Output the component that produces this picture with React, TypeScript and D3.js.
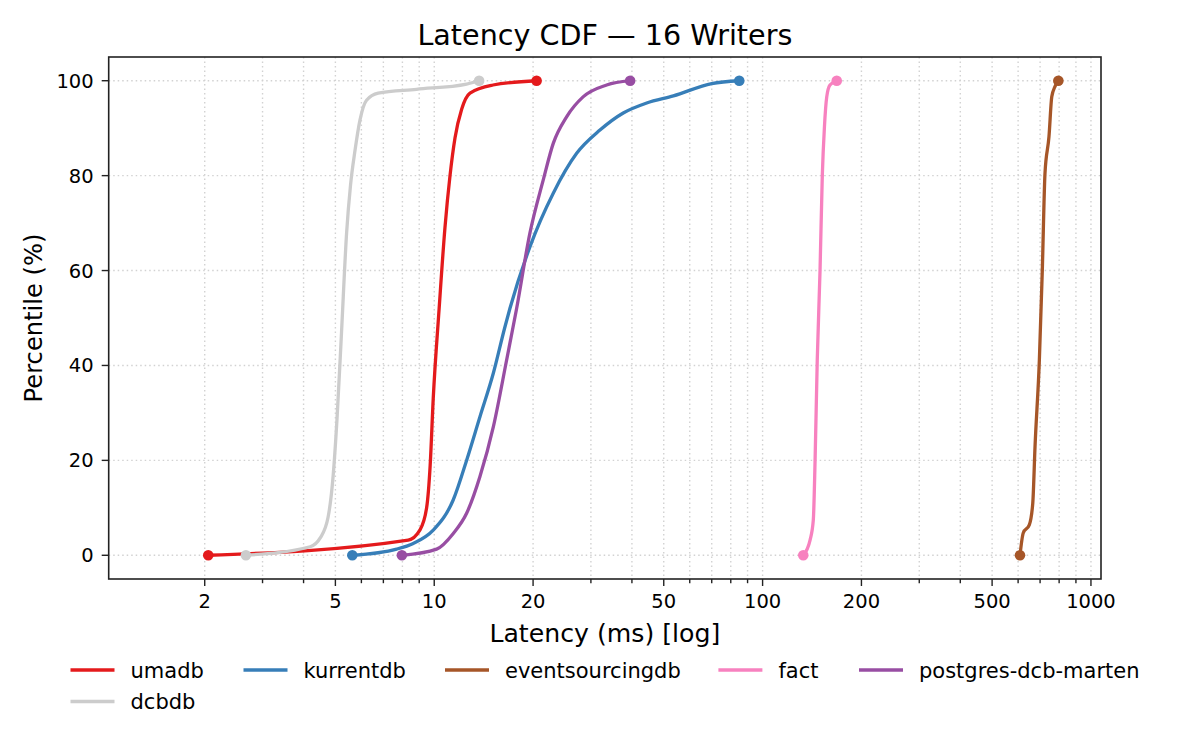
import * as d3 from "d3";

// latency (ms) and percentile for each store
const umadbLat = [2.05, 8.33, 9.04, 9.48, 9.72, 9.93, 10.35, 10.78, 11.17, 11.57, 12.12, 12.85, 15.1, 20.5];
const umadbPct = [0, 3.2, 5.3, 10, 19, 33, 52, 69, 80, 88, 94, 97.4, 99.1, 100];

const dcbdbLat = [2.67, 4.19, 4.49, 4.75, 4.92, 5.06, 5.22, 5.41, 5.56, 5.74, 5.94, 6.22, 6.75, 8.83, 12.55, 13.7];
const dcbdbPct = [0, 1.8, 3.6, 8, 16.6, 29, 47, 68, 78, 85.4, 91.7, 95.9, 97.4, 98.2, 99.3, 100];

const kurrentLat = [5.63, 7.68, 8.63, 9.93, 11.43, 12.56, 13.78, 15.14, 16.4, 17.0, 19.56, 23.04, 27.15, 31.97, 37.64, 44.36, 53.5, 70.0, 84.9];
const kurrentPct = [0, 1.3, 2.5, 5.3, 11.7, 20.1, 29.2, 38.4, 48, 52, 65, 76.3, 84.7, 89.6, 93.2, 95.3, 96.8, 99.4, 100];

const esdbLat = [608, 622, 649, 665, 675.6, 696.5, 711, 724.5, 745, 759.7, 777.4, 795.6];
const esdbPct = [0, 4.7, 6.4, 11, 22.9, 41.2, 60.1, 80.5, 88.2, 96.6, 98.8, 100];

const factLat = [133, 139.5, 142.7, 144.5, 146.7, 149.6, 152, 154.3, 156.8, 160.4, 168.2];
const factPct = [0, 3.2, 7.4, 20, 41, 60, 80, 90.3, 96.6, 99.1, 100];

const martenLat = [7.97, 10.17, 11.43, 12.56, 13.78, 15.14, 16.62, 17.82, 19.56, 21.48, 23.04, 25.3, 28.4, 33.5, 39.5];
const martenPct = [0, 1.3, 4.6, 8.9, 16.6, 27.1, 41.2, 52, 67.9, 79.1, 86.8, 92.4, 96.6, 99.1, 100];

const seriesNames = ["umadb", "dcbdb", "kurrentdb", "eventsourcingdb", "fact", "postgres-dcb-marten"];
const seriesColors = ["#e41a1c", "#cccccc", "#377eb8", "#a65628", "#f781bf", "#984ea3"];
const seriesLat = [umadbLat, dcbdbLat, kurrentLat, esdbLat, factLat, martenLat];
const seriesPct = [umadbPct, dcbdbPct, kurrentPct, esdbPct, factPct, martenPct];

const xMajorTicks = [2, 5, 10, 20, 50, 100, 200, 500, 1000];
const yTicks = [0, 20, 40, 60, 80, 100];

const W = 1200;
const H = 750;
const plot = { left: 108.7, right: 1101, top: 57, bottom: 579 };
const font = "'DejaVu Sans', sans-serif";

// legend slots (col, row) in series order
const legendSlots = [
  [0, 0],
  [0, 1],
  [1, 0],
  [2, 0],
  [3, 0],
  [4, 0],
];
const legendColX = [70.5, 243.5, 445, 718.4, 859];
const legendRowY = [670, 701.5];

export default function App() {
  const x = d3.scaleLog().domain([1.02, 1073]).range([plot.left, plot.right]);
  const y = d3.scaleLinear().domain([-5, 105]).range([plot.bottom, plot.top]);

  const minorTicks = x.ticks().filter((t) => !xMajorTicks.includes(t) && t > 1.02 && t < 1073);
  const gridX = [...minorTicks, ...xMajorTicks];

  const line = d3
    .line<[number, number]>()
    .x((d) => x(d[0]))
    .y((d) => y(d[1]))
    .curve(d3.curveMonotoneX);

  const series = seriesNames.map((name, i) => ({
    name,
    color: seriesColors[i],
    pts: seriesLat[i].map((v, j) => [v, seriesPct[i][j]] as [number, number]),
  }));

  return (
    <div style={{ position: "fixed", left: 0, top: 0, width: W, height: H, background: "#fff" }}>
      <svg width={W} height={H} style={{ display: "block" }} fontFamily={font}>
        <rect x={0} y={0} width={W} height={H} fill="#fff" />

        {/* grid */}
        <g stroke="#d2d2d2" strokeWidth={1.4} strokeDasharray="1.5,3">
          {gridX.map((t) => (
            <line key={"gx" + t} x1={x(t)} x2={x(t)} y1={plot.top} y2={plot.bottom} />
          ))}
          {yTicks.map((t) => (
            <line key={"gy" + t} x1={plot.left} x2={plot.right} y1={y(t)} y2={y(t)} />
          ))}
        </g>

        {/* series */}
        {series.map((s) => (
          <g key={s.name}>
            <path
              d={line(s.pts) ?? ""}
              fill="none"
              stroke={s.color}
              strokeWidth={3.3}
              strokeLinejoin="round"
              strokeLinecap="round"
            />
            {[s.pts[0], s.pts[s.pts.length - 1]].map((p, k) => (
              <circle key={k} cx={x(p[0])} cy={y(p[1])} r={5.3} fill={s.color} />
            ))}
          </g>
        ))}

        {/* frame */}
        <rect
          x={plot.left}
          y={plot.top}
          width={plot.right - plot.left}
          height={plot.bottom - plot.top}
          fill="none"
          stroke="#222"
          strokeWidth={1.6}
        />

        {/* ticks */}
        <g stroke="#222" strokeWidth={1.4}>
          {minorTicks.map((t) => (
            <line key={"mt" + t} x1={x(t)} x2={x(t)} y1={plot.bottom} y2={plot.bottom + 4.2} />
          ))}
          {xMajorTicks.map((t) => (
            <line key={"Mt" + t} x1={x(t)} x2={x(t)} y1={plot.bottom} y2={plot.bottom + 7} />
          ))}
          {yTicks.map((t) => (
            <line key={"yt" + t} x1={plot.left - 7} x2={plot.left} y1={y(t)} y2={y(t)} />
          ))}
        </g>
        <g fontSize={19.5} fill="#000">
          {xMajorTicks.map((t) => (
            <text key={"xl" + t} x={x(t)} y={608} textAnchor="middle">
              {t}
            </text>
          ))}
          {yTicks.map((t) => (
            <text key={"yl" + t} x={plot.left - 15} y={y(t)} dy="0.36em" textAnchor="end">
              {t}
            </text>
          ))}
        </g>

        {/* labels */}
        <text x={(plot.left + plot.right) / 2} y={642} textAnchor="middle" fontSize={25.2}>
          Latency (ms) [log]
        </text>
        <text
          transform={`translate(42,${(plot.top + plot.bottom) / 2}) rotate(-90)`}
          textAnchor="middle"
          fontSize={24.2}
        >
          Percentile (%)
        </text>
        <text x={(plot.left + plot.right) / 2} y={45} textAnchor="middle" fontSize={28.6}>
          Latency CDF — 16 Writers
        </text>

        {/* legend */}
        {series.map((s, i) => {
          const [c, r] = legendSlots[i];
          const lx = legendColX[c];
          const ly = legendRowY[r];
          return (
            <g key={"lg" + s.name}>
              <line x1={lx} x2={lx + 44} y1={ly} y2={ly} stroke={s.color} strokeWidth={3.3} />
              <text x={lx + 60} y={ly} dy="0.36em" fontSize={21}>
                {s.name}
              </text>
            </g>
          );
        })}
      </svg>
    </div>
  );
}
